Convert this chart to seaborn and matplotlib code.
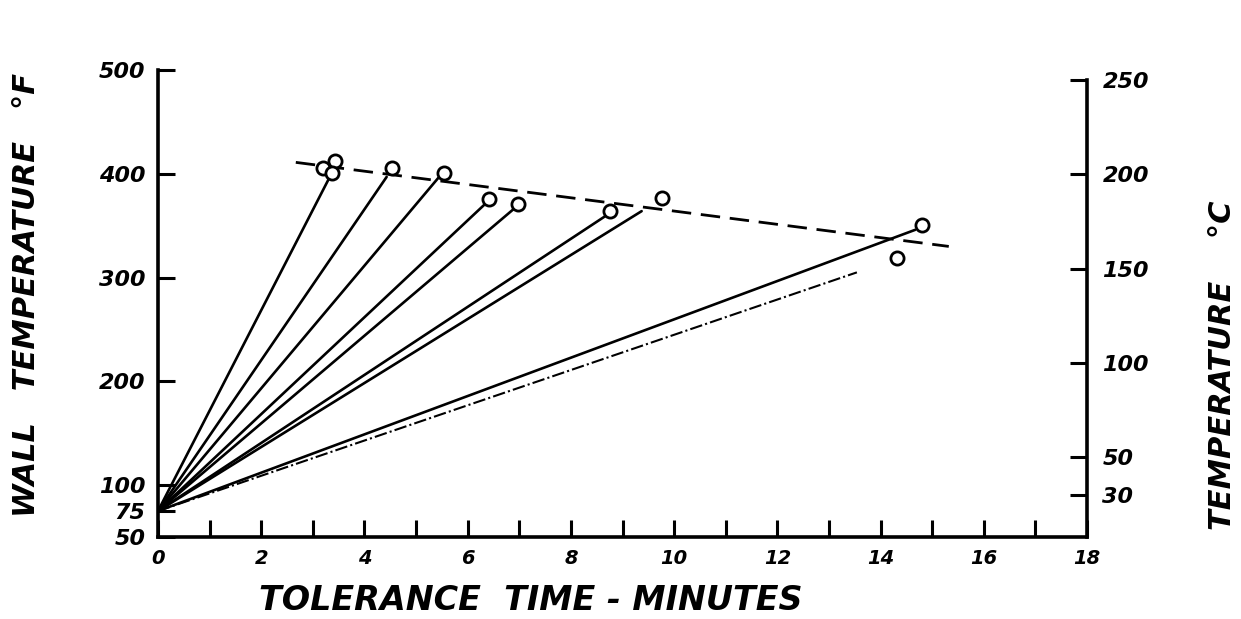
import numpy as np
import pandas as pd
import seaborn as sns
import matplotlib.pyplot as plt

# measured points (circles)
pt_time = [3.19, 3.43, 3.37, 4.54, 5.54, 6.42, 6.98, 8.76, 9.76, 14.80, 14.32]
pt_temp = [406, 412, 401, 406, 401, 376, 371, 364, 377, 351, 319]

# heating lines, all start at (0, 75 F)
line_end_time = [3.37, 4.43, 5.43, 6.34, 6.89, 8.66, 9.37, 14.67, 13.54]
line_end_temp = [401, 397, 396, 371, 366, 359, 364, 346, 305]
start_time = 0.0
start_temp = 75

# dashed trend line ends
trend_time = [2.67, 15.32]
trend_temp = [411, 330]

x_ticks = [0, 2, 4, 6, 8, 10, 12, 14, 16, 18]
yF_ticks = [50, 75, 100, 200, 300, 400, 500]
yC_ticks = [30, 50, 100, 150, 200, 250]

sns.set_style("ticks", {'axes.edgecolor': 'black', 'text.color': 'black',
                        'xtick.color': 'black', 'ytick.color': 'black'})
plt.rcParams['font.family'] = ['DejaVu Sans']

fig = plt.figure(figsize=(12.41, 6.19), dpi=100)
ax = fig.add_axes([0.1273, 0.1325, 0.7487, 0.7544])

rows = []
for i, (t, T) in enumerate(zip(line_end_time, line_end_temp)):
    rows.append({'run': i, 'time': start_time, 'temp': start_temp})
    rows.append({'run': i, 'time': t, 'temp': T})
lines = pd.DataFrame(rows)
solid = lines[lines['run'] != 8]
faint = lines[lines['run'] == 8]

sns.lineplot(data=solid, x='time', y='temp', units='run', estimator=None,
             color='black', lw=1.9, sort=False, ax=ax)
sns.lineplot(data=faint, x='time', y='temp', units='run', estimator=None,
             color='black', lw=1.5, sort=False, ax=ax)
ax.lines[-1].set_dashes((6, 1.5, 1, 1.5))

trend = pd.DataFrame({'time': trend_time, 'temp': trend_temp})
sns.lineplot(data=trend, x='time', y='temp', color='black', lw=2.0, ax=ax)
ax.lines[-1].set_dashes((7, 3.5))

pts = pd.DataFrame({'time': pt_time, 'temp': pt_temp})
sns.scatterplot(data=pts, x='time', y='temp', s=90, facecolor='white',
                edgecolor='black', linewidth=2.0, zorder=5, ax=ax)

ax.set_xlim(0, 18)
ax.set_ylim(50, 500)
ax.set_xticks(x_ticks)
ax.set_xticks(np.arange(0, 19, 1), minor=True)
ax.set_yticks(yF_ticks)
ax.set_xlabel('')
ax.set_ylabel('')

tick_font = dict(fontsize=16, fontweight='heavy', style='italic', color='black')
ax.set_xticklabels([str(v) for v in x_ticks], fontsize=14, fontweight='heavy',
                   style='italic', color='black')
ax.set_yticklabels([str(v) for v in yF_ticks], **tick_font)
ax.tick_params(axis='x', which='both', direction='in', length=12, width=2.2, pad=9)
ax.tick_params(axis='y', direction='in', length=12, width=2.2, pad=9)
for s in ['left', 'bottom']:
    ax.spines[s].set_linewidth(2.6)
ax.spines['top'].set_visible(False)
ax.spines['right'].set_visible(False)

axr = ax.twinx()
axr.set_ylim(7.7, 255.3)
axr.set_yticks(yC_ticks)
axr.set_yticklabels([str(v) for v in yC_ticks], **tick_font)
axr.tick_params(axis='y', direction='in', length=12, width=2.2, pad=11)
axr.spines['right'].set_linewidth(2.6)
axr.spines['right'].set_bounds(7.7, 250)
for s in ['top', 'left', 'bottom']:
    axr.spines[s].set_visible(False)

label_font = dict(fontsize=22, fontweight='heavy', style='italic', color='black')
fig.text(0.021, 0.523, 'WALL   TEMPERATURE   °F', rotation=90, ha='center', va='center', **label_font)
fig.text(0.985, 0.41, 'TEMPERATURE    °C', rotation=90, ha='center', va='center', **label_font)
fig.text(0.428, 0.03, 'TOLERANCE  TIME - MINUTES', ha='center', va='center',
         fontsize=24, fontweight='heavy', style='italic', color='black')

fig.savefig('out.png', dpi=100)
